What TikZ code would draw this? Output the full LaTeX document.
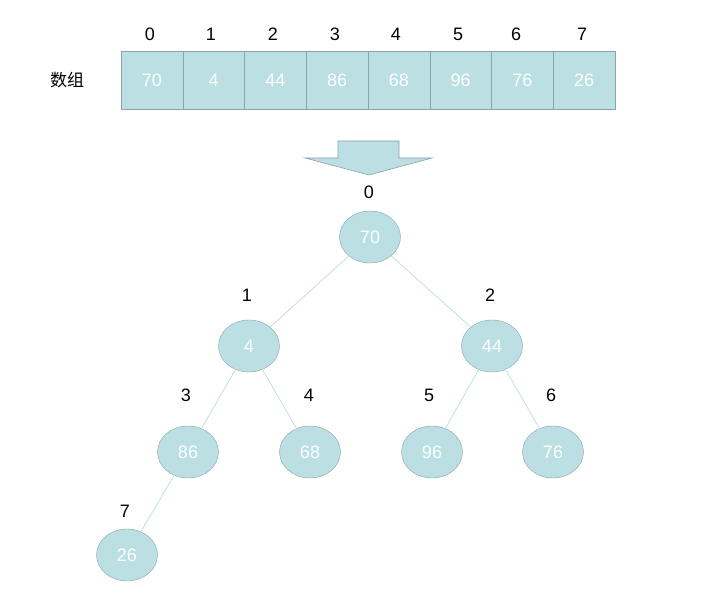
\documentclass[tikz,border=0pt]{standalone}
\usepackage{fontspec}
\setmainfont{Liberation Sans}
\newfontfamily\cjk{Noto Sans CJK SC}
\usetikzlibrary{shapes.geometric}
\definecolor{cellfill}{HTML}{BBDFE3}
\definecolor{cellline}{HTML}{8AA3A5}
\definecolor{edgecol}{HTML}{BFE0E3}
\begin{document}
\begin{tikzpicture}[x=1pt,y=-1pt,
  cell/.style={draw=cellline,fill=cellfill,minimum width=61.75pt,minimum height=58pt,inner sep=0pt,text=white,font=\fontsize{18}{20}\selectfont,anchor=center},
  tnode/.style={ellipse,draw=cellline,fill=cellfill,minimum width=61pt,minimum height=52pt,inner sep=0pt,text=white,font=\fontsize{18}{20}\selectfont},
  idx/.style={font=\fontsize{18}{20}\selectfont,inner sep=0pt},
  edge/.style={draw=edgecol,line width=0.8pt}]
\useasboundingbox (0,0) rectangle (728,604);
% array
\foreach \v [count=\i from 0] in {70,4,44,86,68,96,76,26} {
  \node[cell] (c\i) at ({121+61.75*\i+30.875},80) {\v};
}
\foreach \x/\t [count=\i from 0] in {150/0,211/1,273/2,335/3,396/4,458/5,516/6,582/7} {
  \node[idx] (ci\i) at (\x,34) {\t};
}
\node[font=\cjk\fontsize{17}{19}\selectfont,inner sep=0pt] (lbl) at (67,80) {数组};
% arrow
\draw[draw=cellline,fill=cellfill,line width=0.6pt] (338,141) -- (399,141) -- (399,158) -- (432,158) -- (369,175) -- (305,158) -- (338,158) -- cycle;
% tree
\node[tnode] (n0) at (370,237) {70};
\node[tnode] (n1) at (249,346) {4};
\node[tnode] (n2) at (492,346) {44};
\node[tnode] (n3) at (188,452) {86};
\node[tnode] (n4) at (310,452) {68};
\node[tnode] (n5) at (432,452) {96};
\node[tnode] (n6) at (553,452) {76};
\node[tnode] (n7) at (127,555) {26};
\path[edge] (n0) -- (n1);
\path[edge] (n0) -- (n2);
\path[edge] (n1) -- (n3);
\path[edge] (n1) -- (n4);
\path[edge] (n2) -- (n5);
\path[edge] (n2) -- (n6);
\path[edge] (n3) -- (n7);
\node[idx] (l0) at (369,192) {0};
\node[idx] (l1) at (247,295) {1};
\node[idx] (l2) at (490,295) {2};
\node[idx] (l3) at (186,395) {3};
\node[idx] (l4) at (309,395) {4};
\node[idx] (l5) at (429,395) {5};
\node[idx] (l6) at (551,395) {6};
\node[idx] (l7) at (125,511) {7};
\end{tikzpicture}
\end{document}
